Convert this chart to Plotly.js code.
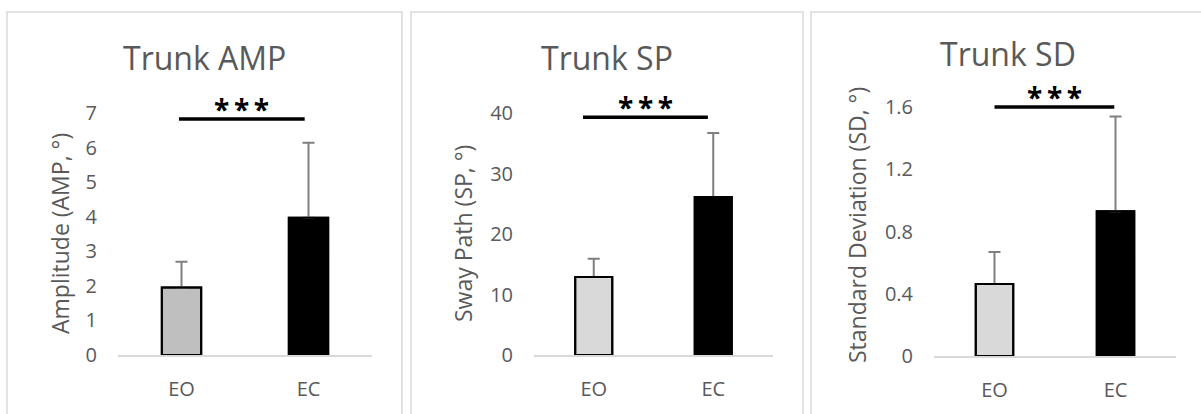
<!DOCTYPE html>
<html>
<head>
<meta charset="utf-8">
<script src="https://cdn.plot.ly/plotly-3.0.1.min.js"></script>
<style>html,body{margin:0;padding:0;background:#fff;}#chart{width:1201px;height:414px;}</style>
</head>
<body>
<div id="chart"></div>
<script>
// ---- data ----
const categories = ["EO", "EC"];

const ampTitle = "Trunk AMP";
const ampAxisTitle = "Amplitude (AMP, °)";
const ampMean = [1.95, 3.97];
const ampErr = [0.75, 2.17];
const ampTicks = [0, 1, 2, 3, 4, 5, 6, 7];
const ampSig = [-0.02, 0.97, 6.83];

const spTitle = "Trunk SP";
const spAxisTitle = "Sway Path (SP, °)";
const spMean = [12.9, 26.1];
const spErr = [3.0, 10.6];
const spTicks = [0, 10, 20, 30, 40];
const spSig = [-0.09, 0.955, 39.3];

const sdTitle = "Trunk SD";
const sdAxisTitle = "Standard Deviation (SD, °)";
const sdMean = [0.463, 0.93];
const sdErr = [0.205, 0.61];
const sdTicks = [0, 0.4, 0.8, 1.2, 1.6];
const sdTickLabels = ["0", "0.4", "0.8", "1.2", "1.6"];
const sdSig = [0.0, 0.99, 1.6];

const sigText = "*\u2009*\u2009*";

// ---- layout helpers ----
const W = 1201, H = 414;
const px = v => v / W;
const py = v => 1 - v / H;
const FONT = "Open Sans, sans-serif";
const GREY = "#595959";

function barTrace(mean, err, colors, ax) {
  return {
    type: "bar", x: categories, y: mean, xaxis: "x" + ax, yaxis: "y" + ax,
    width: 0.31,
    marker: { color: colors, line: { color: "#000000", width: 2 } },
    error_y: { type: "data", symmetric: false, array: err, arrayminus: [0, 0],
               color: "#7f7f7f", thickness: 2, width: 6 },
    hoverinfo: "skip", showlegend: false
  };
}
// outline-only overlay so the bar edge sits on top of the error bar foot
function outlineTrace(mean, ax) {
  return {
    type: "bar", x: categories, y: mean, xaxis: "x" + ax, yaxis: "y" + ax,
    width: 0.31,
    marker: { color: "rgba(0,0,0,0)", line: { color: "#000000", width: 2 } },
    hoverinfo: "skip", showlegend: false
  };
}

const data = [
  barTrace(ampMean, ampErr, ["#bfbfbf", "#000000"], ""),
  barTrace(spMean, spErr, ["#d9d9d9", "#000000"], "2"),
  barTrace(sdMean, sdErr, ["#d9d9d9", "#000000"], "3"),
  outlineTrace(ampMean, ""),
  outlineTrace(spMean, "2"),
  outlineTrace(sdMean, "3")
];

function xax(x0, x1, anchor) {
  return {
    domain: [px(x0), px(x1)], anchor: anchor, range: [-0.5, 1.5],
    showline: true, linecolor: "#d9d9d9", linewidth: 1.5,
    showgrid: false, zeroline: false, fixedrange: true,
    ticks: "outside", ticklen: 15, tickcolor: "rgba(0,0,0,0)",
    tickfont: { family: FONT, size: 20, color: GREY }
  };
}
function yax(top, bottom, range, ticks, labels, anchor) {
  const a = {
    domain: [py(bottom), py(top)], anchor: anchor, range: range,
    showline: false, showgrid: false, zeroline: false, fixedrange: true,
    tickmode: "array", tickvals: ticks,
    ticks: "outside", ticklen: 16, tickcolor: "rgba(0,0,0,0)",
    tickfont: { family: FONT, size: 20, color: GREY }
  };
  if (labels) a.ticktext = labels;
  return a;
}

function border(x0, x1) {
  return { type: "rect", xref: "paper", yref: "paper", x0: px(x0), x1: px(x1), y0: py(420), y1: py(12),
           line: { color: "#d9d9d9", width: 1.5 }, fillcolor: "rgba(0,0,0,0)", layer: "below" };
}
function sigLine(sig, ax) {
  return { type: "line", xref: "x" + ax, yref: "y" + ax, x0: sig[0], x1: sig[1], y0: sig[2], y1: sig[2],
           line: { color: "#000000", width: 3.5 } };
}
function sigStar(sig, ax) {
  return { xref: "x" + ax, yref: "y" + ax, x: (sig[0] + sig[1]) / 2, y: sig[2], text: "<b>" + sigText + "</b>",
           showarrow: false, yanchor: "bottom", yshift: -11, font: { family: FONT, size: 28, color: "#000000" } };
}
function title(text, x, y) {
  return { xref: "paper", yref: "paper", x: px(x), y: py(y), text: text, showarrow: false,
           xanchor: "center", yanchor: "middle", font: { family: FONT, size: 32, color: GREY } };
}
function ytitle(text, x, y) {
  return { xref: "paper", yref: "paper", x: px(x), y: py(y), text: text, showarrow: false, textangle: -90,
           xanchor: "center", yanchor: "middle", font: { family: FONT, size: 23, color: GREY } };
}

const layout = {
  width: W, height: H, margin: { l: 0, r: 0, t: 0, b: 0 },
  paper_bgcolor: "#ffffff", plot_bgcolor: "rgba(0,0,0,0)",
  showlegend: false, barmode: "overlay", bargap: 0,
  xaxis: xax(118, 372, "y"),
  yaxis: yax(355 - 7.3 * 34.57, 355, [0, 7.3], ampTicks, null, "x"),
  xaxis2: xax(534, 773, "y2"),
  yaxis2: yax(355 - 41 * 6.05, 355, [0, 41], spTicks, null, "x2"),
  xaxis3: xax(934, 1176, "y3"),
  yaxis3: yax(356 - 1.7 * 155.6, 356, [0, 1.7], sdTicks, sdTickLabels, "x3"),
  shapes: [
    border(7, 402), border(411, 803), border(811, 1210),
    sigLine(ampSig, ""), sigLine(spSig, "2"), sigLine(sdSig, "3")
  ],
  annotations: [
    title(ampTitle, 204, 58), title(spTitle, 607, 58), title(sdTitle, 1008, 53),
    ytitle(ampAxisTitle, 60, 234), ytitle(spAxisTitle, 463, 234), ytitle(sdAxisTitle, 857, 225),
    sigStar(ampSig, ""), sigStar(spSig, "2"), sigStar(sdSig, "3")
  ]
};

Plotly.newPlot("chart", data, layout, { staticPlot: true, displayModeBar: false });
</script>
</body>
</html>
